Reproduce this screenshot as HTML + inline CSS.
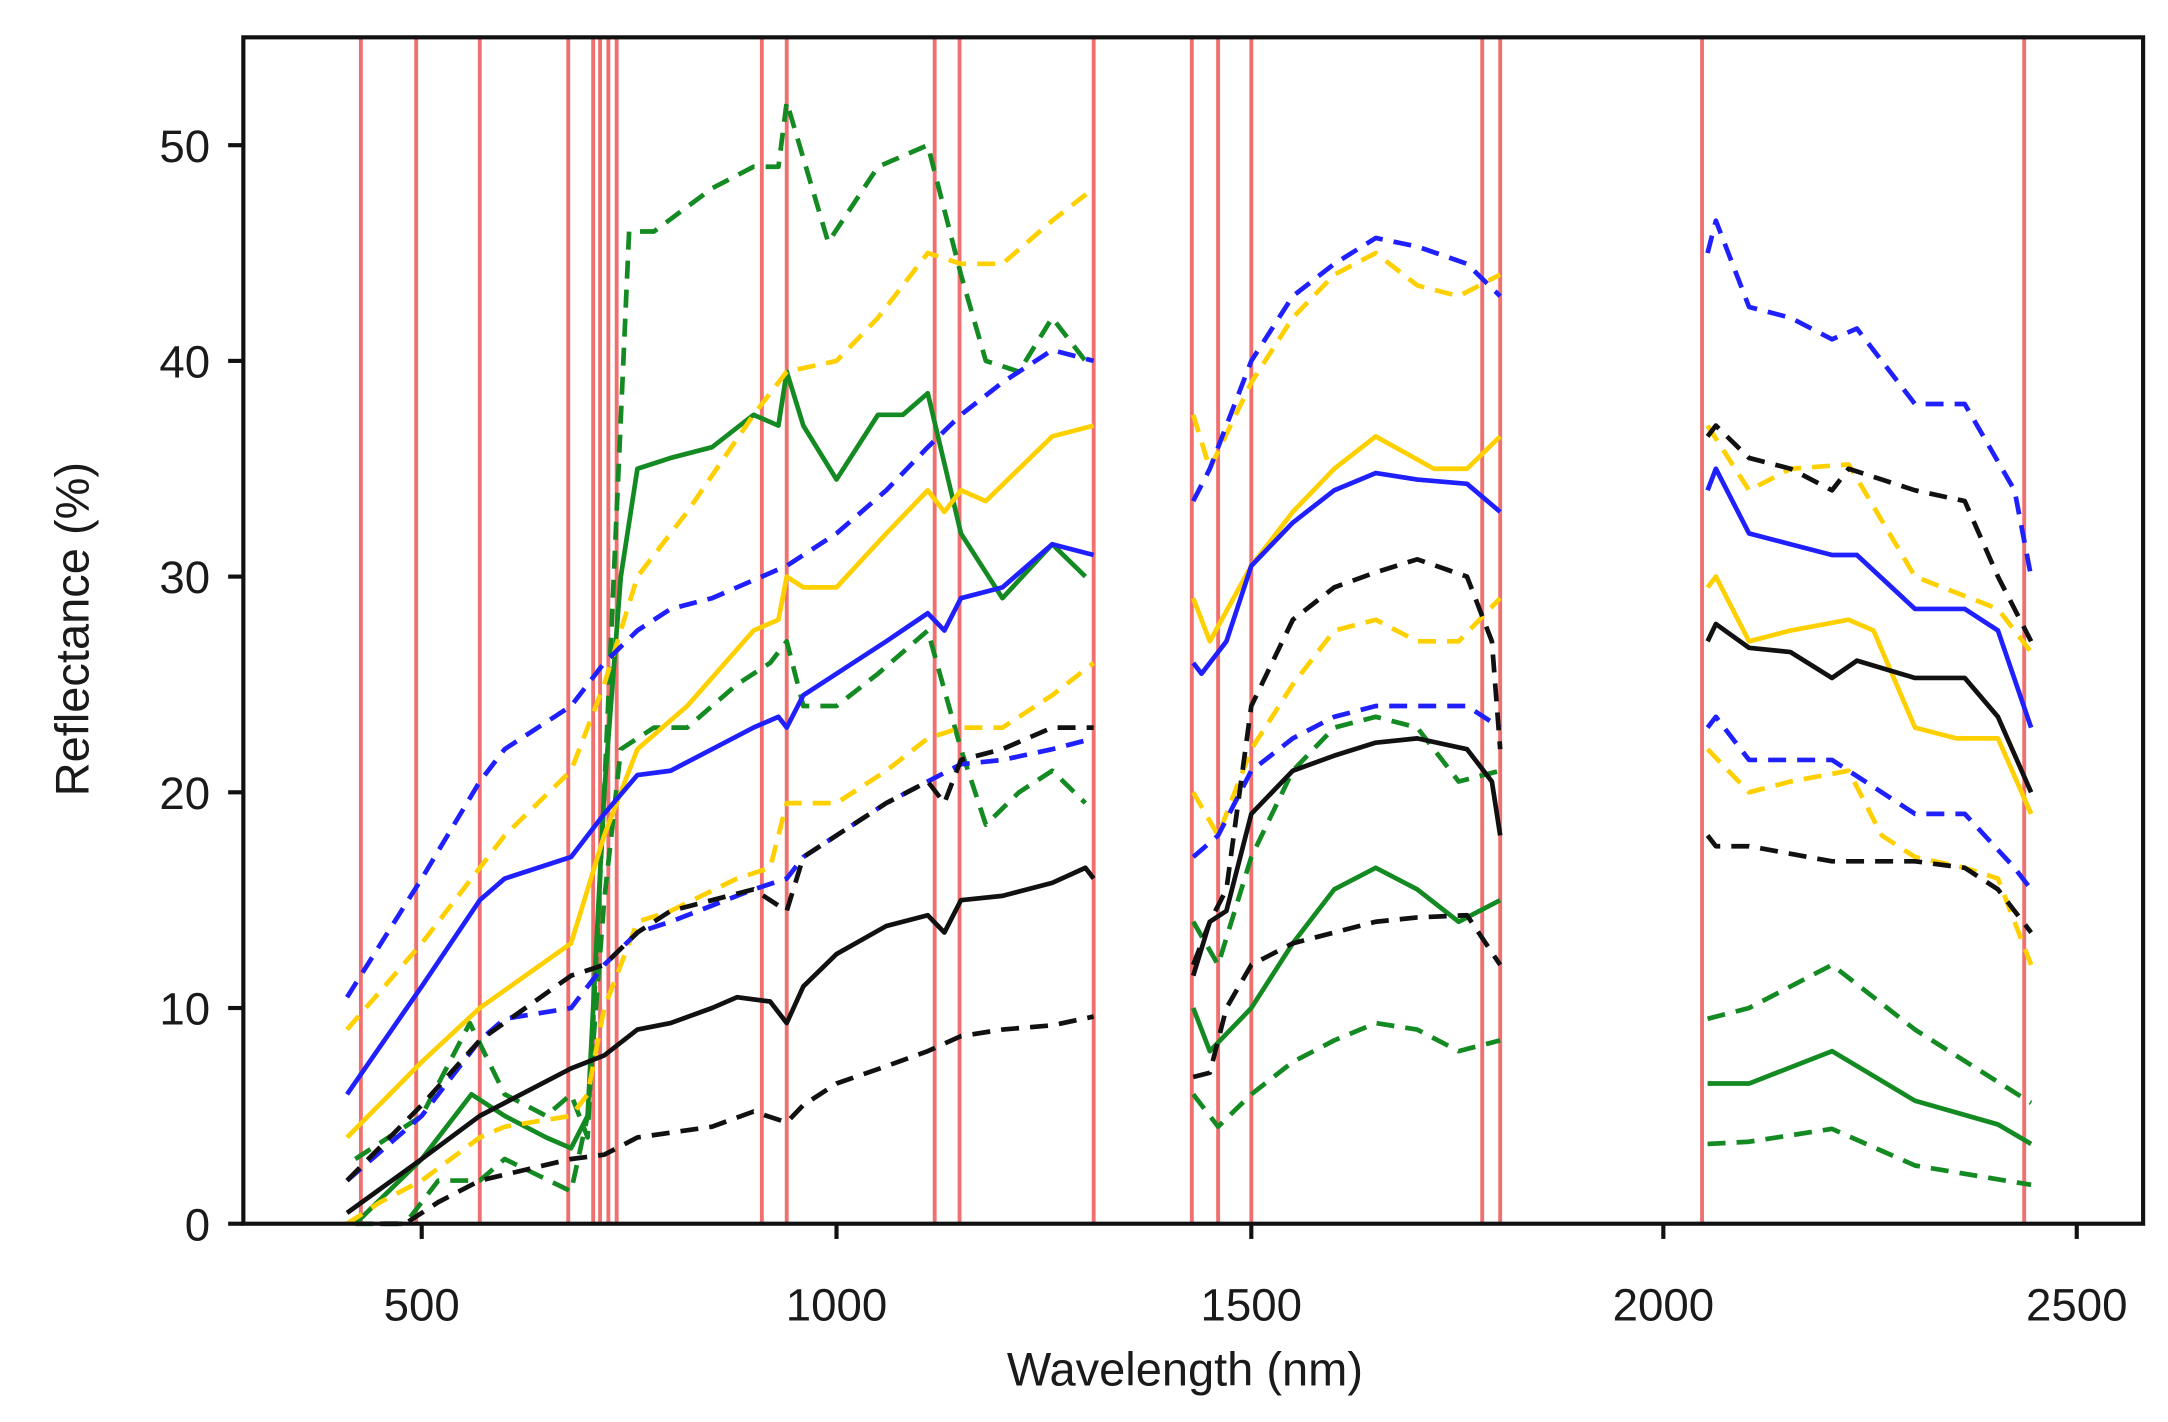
<!DOCTYPE html>
<html><head><meta charset="utf-8"><style>
html,body{margin:0;padding:0;background:#fff;}
svg{display:block;}
text{font-family:"Liberation Sans",Arial,sans-serif;fill:#1a1a1a;}
</style></head><body>
<svg id="s" width="2168" height="1422" viewBox="0 0 1568 1028.4" preserveAspectRatio="none" xmlns="http://www.w3.org/2000/svg">
<rect width="1568" height="1028.4" fill="#fff"/>
<g id="red" stroke="#f07070" stroke-width="2.8"></g>
<g id="series" fill="none" stroke-width="3.4" stroke-linejoin="round"></g>
<rect x="176" y="27" width="1374" height="858" fill="none" stroke="#111" stroke-width="3"/>
<g stroke="#111" stroke-width="3">
<line x1="305" y1="885" x2="305" y2="896"/><line x1="605" y1="885" x2="605" y2="896"/><line x1="905" y1="885" x2="905" y2="896"/><line x1="1203" y1="885" x2="1203" y2="896"/><line x1="1502" y1="885" x2="1502" y2="896"/>
<line x1="165" y1="885" x2="176" y2="885"/><line x1="165" y1="729" x2="176" y2="729"/><line x1="165" y1="573" x2="176" y2="573"/><line x1="165" y1="417" x2="176" y2="417"/><line x1="165" y1="261" x2="176" y2="261"/><line x1="165" y1="105" x2="176" y2="105"/>
</g>
<g font-size="33" text-anchor="middle">
<text x="305" y="955">500</text><text x="605" y="955">1000</text><text x="905" y="955">1500</text><text x="1203" y="955">2000</text><text x="1502" y="955">2500</text>
</g>
<g font-size="33" text-anchor="end">
<text x="152" y="897">0</text><text x="152" y="741">10</text><text x="152" y="585">20</text><text x="152" y="429">30</text><text x="152" y="273">40</text><text x="152" y="117">50</text>
</g>
<text x="857" y="1002" font-size="34" text-anchor="middle">Wavelength (nm)</text>
<text transform="translate(64,455) rotate(-90)" font-size="34" text-anchor="middle">Reflectance (%)</text>
</svg>
<script>
var NS="http://www.w3.org/2000/svg";
var reds=[261,301,347,411,429,434,440,446,551,569,676,694,791,862,881,905,1072,1085,1231,1464];
var rg=document.getElementById('red');
reds.forEach(function(x){var l=document.createElementNS(NS,'line');l.setAttribute('x1',x);l.setAttribute('x2',x);l.setAttribute('y1',27);l.setAttribute('y2',885);rg.appendChild(l);});
function X(n){return 0.6*n+5;} function Y(v){return 885-15.6*v;}
var G='#148a22',Yl='#ffd000',B='#2020ff',K='#111';
var S=[
[G,1,[[420,3],[500,5],[558,9.3],[600,6],[650,5],[680,6],[700,4],[720,20],[750,46],[780,46],[850,48],[900,49],[930,49],[940,52],[990,45.5],[1050,49],[1110,50],[1150,44],[1180,40],[1220,39.5],[1260,42],[1300,40]],[[1430,14],[1460,12],[1500,17],[1550,21],[1600,23],[1650,23.5],[1700,23],[1750,20.5],[1800,21]],[[2050,9.5],[2100,10],[2200,12],[2300,9],[2440,5.6]]],
[G,0,[[420,0],[500,3],[560,6],[600,5],[650,4],[680,3.5],[700,5],[720,20],[740,30],[760,35],[800,35.5],[850,36],[900,37.5],[930,37],[940,39.5],[960,37],[1000,34.5],[1050,37.5],[1080,37.5],[1110,38.5],[1150,32],[1200,29],[1260,31.5],[1300,30]],[[1430,10],[1450,8],[1500,10],[1550,13],[1600,15.5],[1650,16.5],[1700,15.5],[1750,14],[1800,15]],[[2050,6.5],[2100,6.5],[2200,8],[2300,5.7],[2400,4.6],[2440,3.7]]],
[G,1,[[420,0],[450,0],[480,0],[520,2],[570,2],[600,3],[680,1.5],[700,5],[720,15],[740,22],[780,23],[820,23],[880,25],[920,26],[940,27],[960,24],[1000,24],[1050,25.5],[1110,27.5],[1150,22],[1180,18.5],[1220,20],[1260,21],[1300,19.5]],[[1430,6],[1460,4.5],[1500,6],[1550,7.5],[1600,8.5],[1650,9.3],[1700,9],[1750,8],[1800,8.5]],[[2050,3.7],[2100,3.8],[2200,4.4],[2300,2.7],[2440,1.8]]],
[Yl,1,[[410,9],[500,13],[600,18],[680,21],[720,25],[760,30],[820,33],[900,37.5],[940,39.5],[1000,40],[1050,42],[1110,45],[1150,44.5],[1200,44.5],[1260,46.5],[1310,48]],[[1430,37.5],[1450,35],[1500,39],[1550,42],[1600,44],[1650,45],[1700,43.5],[1750,43],[1800,44]],[[2050,37],[2100,34],[2150,35],[2220,35.2],[2300,30],[2400,28.5],[2440,26.5]]],
[Yl,0,[[410,4],[500,7.5],[570,10],[680,13],[720,18],[760,22],[820,24],[900,27.5],[930,28],[940,30],[960,29.5],[1000,29.5],[1060,32],[1110,34],[1130,33],[1150,34],[1180,33.5],[1260,36.5],[1310,37]],[[1430,29],[1450,27],[1500,30.5],[1550,33],[1600,35],[1650,36.5],[1720,35],[1760,35],[1800,36.5]],[[2050,29.5],[2060,30],[2100,27],[2150,27.5],[2220,28],[2250,27.5],[2300,23],[2350,22.5],[2400,22.5],[2440,19]]],
[Yl,1,[[410,0],[450,1],[500,2],[570,4],[600,4.5],[680,5],[700,6],[720,10],[760,14],[800,14.5],[880,16],[920,16.5],[940,19.5],[1000,19.5],[1060,21],[1110,22.5],[1150,23],[1200,23],[1260,24.5],[1310,26]],[[1430,20],[1460,18],[1500,22],[1550,25],[1600,27.5],[1650,28],[1700,27],[1750,27],[1800,29]],[[2050,22],[2100,20],[2150,20.5],[2220,21],[2260,18],[2300,17],[2360,16.5],[2400,16],[2440,12]]],
[B,1,[[410,10.5],[500,16],[570,20.5],[600,22],[680,24],[720,26],[760,27.5],[800,28.5],[850,29],[940,30.5],[1000,32],[1060,34],[1110,36],[1150,37.5],[1200,39],[1260,40.5],[1310,40]],[[1430,33.5],[1450,35],[1500,40],[1550,43],[1600,44.5],[1650,45.7],[1700,45.3],[1760,44.5],[1800,43]],[[2050,45],[2060,46.5],[2100,42.5],[2150,42],[2200,41],[2230,41.5],[2300,38],[2360,38],[2420,34],[2440,30]]],
[B,0,[[410,6],[500,11],[570,15],[600,16],[680,17],[720,19],[760,20.8],[800,21],[850,22],[900,23],[930,23.5],[940,23],[960,24.5],[1000,25.5],[1060,27],[1110,28.3],[1130,27.5],[1150,29],[1200,29.5],[1260,31.5],[1310,31]],[[1430,26],[1440,25.5],[1470,27],[1500,30.5],[1550,32.5],[1600,34],[1650,34.8],[1700,34.5],[1760,34.3],[1800,33]],[[2050,34],[2060,35],[2100,32],[2150,31.5],[2200,31],[2230,31],[2300,28.5],[2360,28.5],[2400,27.5],[2440,23]]],
[B,1,[[410,2],[500,5],[570,8.5],[600,9.5],[680,10],[720,12],[760,13.5],[800,14],[900,15.5],[940,16],[960,17],[1000,18],[1060,19.5],[1110,20.5],[1150,21.3],[1200,21.5],[1260,22],[1310,22.5]],[[1430,17],[1460,18],[1500,21],[1550,22.5],[1600,23.5],[1650,24],[1700,24],[1760,24],[1800,23]],[[2050,23],[2060,23.5],[2100,21.5],[2200,21.5],[2300,19],[2360,19],[2420,16.5],[2440,15.5]]],
[K,1,[[410,2],[500,5.5],[570,8.5],[680,11.5],[720,12],[760,13.5],[800,14.5],[900,15.5],[940,14.5],[960,17],[1000,18],[1060,19.5],[1110,20.5],[1130,19.5],[1150,21.5],[1200,22],[1260,23],[1310,23]],[[1430,12],[1450,14],[1470,15.5],[1500,24],[1550,28],[1600,29.5],[1650,30.2],[1700,30.8],[1760,30],[1790,27],[1800,22]],[[2050,36.5],[2060,37],[2100,35.5],[2150,35],[2200,34],[2220,35],[2300,34],[2360,33.5],[2400,30],[2440,27]]],
[K,0,[[410,0.5],[500,3],[570,5],[680,7.2],[720,7.8],[760,9],[800,9.3],[850,10],[880,10.5],[920,10.3],[940,9.3],[960,11],[1000,12.5],[1060,13.8],[1110,14.3],[1130,13.5],[1150,15],[1200,15.2],[1260,15.8],[1300,16.5],[1310,16]],[[1430,11.5],[1450,14],[1470,14.5],[1500,19],[1550,21],[1600,21.7],[1650,22.3],[1700,22.5],[1760,22],[1790,20.5],[1800,18]],[[2050,27],[2060,27.8],[2100,26.7],[2150,26.5],[2200,25.3],[2230,26.1],[2300,25.3],[2360,25.3],[2400,23.5],[2440,20]]],
[K,1,[[450,0],[480,0],[520,1],[570,2],[680,3],[720,3.2],[760,4],[850,4.5],[900,5.2],[940,4.7],[960,5.5],[1000,6.5],[1060,7.3],[1110,8],[1150,8.7],[1200,9],[1260,9.2],[1310,9.6]],[[1430,6.8],[1450,7],[1470,10],[1500,12],[1550,13],[1600,13.5],[1650,14],[1700,14.2],[1760,14.3],[1800,12]],[[2050,18],[2060,17.5],[2100,17.5],[2200,16.8],[2300,16.8],[2360,16.5],[2400,15.5],[2440,13.5]]]
];
var sg=document.getElementById('series');
S.forEach(function(s){for(var i=2;i<s.length;i++){var p=document.createElementNS(NS,'polyline');
p.setAttribute('points',s[i].map(function(q){return X(q[0]).toFixed(1)+','+Y(q[1]).toFixed(1);}).join(' '));
p.setAttribute('stroke',s[0]);if(s[1])p.setAttribute('stroke-dasharray','13,8');sg.appendChild(p);}});
</script>
</body></html>
